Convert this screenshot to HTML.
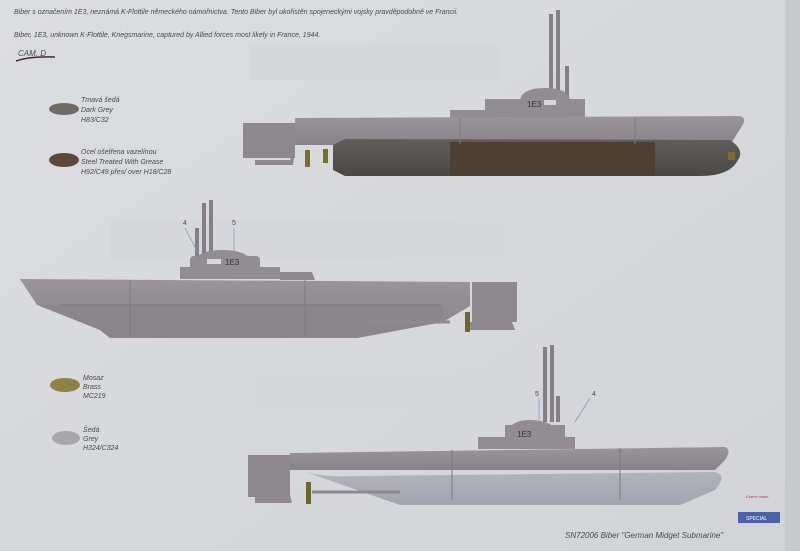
<!DOCTYPE html>
<html><head><meta charset="utf-8"><style>
html,body{margin:0;padding:0;background:#d8d9dc;}
svg{display:block}
text{font-family:"Liberation Sans",sans-serif;font-style:italic;fill:#4a4a4e}
</style></head><body>
<svg width="800" height="551" viewBox="0 0 800 551" xmlns="http://www.w3.org/2000/svg">
<defs>
<linearGradient id="bg" x1="0" y1="0" x2="1" y2="1"><stop offset="0" stop-color="#dcdde0"/><stop offset="1" stop-color="#d2d4d8"/></linearGradient>
<linearGradient id="hull" x1="0" y1="0" x2="0" y2="1"><stop offset="0" stop-color="#9a959a"/><stop offset="1" stop-color="#88838a"/></linearGradient>
<linearGradient id="torp" x1="0" y1="0" x2="0" y2="1"><stop offset="0" stop-color="#615d5a"/><stop offset="1" stop-color="#4a4744"/></linearGradient>
<linearGradient id="lgrey" x1="0" y1="0" x2="0" y2="1"><stop offset="0" stop-color="#b3b4bd"/><stop offset="1" stop-color="#a2a4ae"/></linearGradient>
</defs>
<rect width="800" height="551" fill="url(#bg)"/>
<rect x="785" y="0" width="15" height="551" fill="#c8cacd"/>
<rect x="250" y="45" width="250" height="35" fill="#d6d7da"/>
<rect x="110" y="220" width="400" height="40" fill="#d6d7da"/>
<rect x="255" y="370" width="250" height="40" fill="#d6d7da"/>

<text x="14" y="14" font-size="7">Biber s označením 1E3, neznámá K-Flottile německého námořnictva. Tento Biber byl ukořistěn spojeneckými vojsky pravděpodobně ve Francii.</text>
<text x="14" y="37" font-size="7">Biber, 1E3, unknown K-Flottile, Kriegsmarine, captured by Allied forces most likely in France, 1944.</text>
<text x="18" y="56" font-size="8">CAM. D</text>
<path d="M16 61 Q30 56 55 57" stroke="#4a2a3a" stroke-width="1.5" fill="none"/>

<ellipse cx="64" cy="109" rx="15" ry="6" fill="#6f6a64"/>
<text x="81" y="102" font-size="7">Tmavá šedá</text><text x="81" y="112" font-size="7">Dark Grey</text><text x="81" y="122" font-size="7">H83/C32</text>
<ellipse cx="64" cy="160" rx="15" ry="7" fill="#5d4838"/>
<text x="81" y="154" font-size="7">Ocel ošetřena vazelínou</text><text x="81" y="164" font-size="7">Steel Treated With Grease</text><text x="81" y="174" font-size="7">H92/C49 přes/ over H18/C28</text>
<ellipse cx="65" cy="385" rx="15" ry="7" fill="#8d8443"/>
<text x="83" y="380" font-size="7">Mosaz</text><text x="83" y="389" font-size="7">Brass</text><text x="83" y="398" font-size="7">MC219</text>
<ellipse cx="66" cy="438" rx="14" ry="7" fill="#a9a6ad"/>
<text x="83" y="432" font-size="7">Šedá</text><text x="83" y="441" font-size="7">Grey</text><text x="83" y="450" font-size="7">H324/C324</text>

<!-- TOP SUB -->
<g>
<rect x="549" y="14" width="4" height="86" fill="#858086"/>
<rect x="556" y="10" width="4" height="90" fill="#858086"/>
<rect x="565" y="66" width="4" height="34" fill="#858086"/>
<path d="M520 100 Q522 88 545 88 Q568 88 570 100 Z" fill="#928d93"/>
<rect x="485" y="99" width="100" height="19" fill="#928d93"/>
<rect x="450" y="110" width="40" height="8" fill="#928d93"/>
<rect x="243" y="123" width="52" height="35" fill="#8e898f"/>
<path d="M255 160 L290 160 L295 150 L293 165 L255 165Z" fill="#8e898f"/>
<path d="M295 118 L740 116 Q747 118 742 126 L730 145 L295 145 Z" fill="url(#hull)"/>
<path d="M333 145 L345 139 L730 140 Q745 150 738 160 Q730 176 700 176 L345 176 L333 170 Z" fill="url(#torp)"/>
<rect x="450" y="142" width="205" height="34" fill="#4d3f31"/>
<rect x="305" y="150" width="5" height="17" fill="#7b6e2c"/>
<rect x="323" y="149" width="5" height="14" fill="#7b6e2c"/>
<rect x="728" y="152" width="7" height="8" fill="#7b6e2c"/>
<text x="527" y="107" font-size="8" style="font-style:normal;fill:#333">1E3</text>
<rect x="544" y="100" width="12" height="5" fill="#d6d7da"/>
<line x1="460" y1="118" x2="460" y2="144" stroke="#7d787e"/><line x1="635" y1="118" x2="635" y2="144" stroke="#7d787e"/>
</g>

<!-- MIDDLE SUB -->
<g>
<rect x="202" y="203" width="4" height="55" fill="#858086"/>
<rect x="209" y="200" width="4" height="58" fill="#858086"/>
<rect x="195" y="228" width="4" height="30" fill="#858086"/>
<path d="M193 265 Q195 250 222 250 Q250 250 253 265 Z" fill="#928d93"/>
<rect x="190" y="256" width="70" height="14" rx="4" fill="#928d93"/>
<rect x="180" y="267" width="100" height="12" fill="#928d93"/>
<path d="M280 272 L312 272 L315 280 L280 280Z" fill="#8e898f"/>
<rect x="472" y="282" width="45" height="40" fill="#8e898f"/>
<path d="M470 322 L512 322 L515 330 L470 330Z" fill="#8e898f"/>
<path d="M20 279 L470 282 L470 306 L443 322 L357 338 L110 338 L100 330 L37 305 Z" fill="url(#hull)"/>
<path d="M40 305 L443 305 L443 322 L357 338 L110 338 L100 330 Z" fill="#8b868c"/>
<line x1="60" y1="305" x2="440" y2="305" stroke="#7a757b"/>
<line x1="130" y1="280" x2="130" y2="335" stroke="#7d787e"/><line x1="305" y1="280" x2="305" y2="335" stroke="#7d787e"/>
<line x1="370" y1="322" x2="450" y2="322" stroke="#8e898f" stroke-width="3"/>
<rect x="465" y="312" width="5" height="20" fill="#6e6530"/>
<text x="225" y="265" font-size="8" style="font-style:normal;fill:#333">1E3</text>
<rect x="207" y="259" width="14" height="5" fill="#d6d7da"/>
<text x="183" y="225" font-size="7" style="font-style:normal">4</text><text x="232" y="225" font-size="7" style="font-style:normal">5</text>
<line x1="185" y1="228" x2="198" y2="253" stroke="#7aa0c4" stroke-width="0.8"/><line x1="234" y1="228" x2="234" y2="252" stroke="#7aa0c4" stroke-width="0.8"/>
</g>

<!-- BOTTOM SUB -->
<g>
<rect x="543" y="347" width="4" height="75" fill="#858086"/>
<rect x="550" y="345" width="4" height="77" fill="#858086"/>
<rect x="556" y="396" width="4" height="26" fill="#858086"/>
<path d="M506 437 Q508 420 530 420 Q555 420 560 437 Z" fill="#928d93"/>
<rect x="505" y="425" width="60" height="23" fill="#928d93"/>
<rect x="478" y="437" width="97" height="12" fill="#928d93"/>
<rect x="248" y="455" width="42" height="42" fill="#8e898f"/>
<path d="M255 495 L290 495 L292 503 L255 503Z" fill="#8e898f"/>
<path d="M290 453 L725 447 Q732 450 725 460 L715 470 L290 470 Z" fill="url(#hull)"/>
<path d="M300 470 Q320 478 360 476 L715 472 Q728 475 715 490 L680 505 L400 505 Z" fill="url(#lgrey)"/>
<line x1="312" y1="492" x2="400" y2="492" stroke="#8e898f" stroke-width="3"/>
<rect x="306" y="482" width="5" height="22" fill="#6e6530"/>
<text x="517" y="437" font-size="8" style="font-style:normal;fill:#333">1E3</text>
<text x="535" y="396" font-size="7" style="font-style:normal">5</text><text x="592" y="396" font-size="7" style="font-style:normal">4</text>
<line x1="539" y1="398" x2="539" y2="420" stroke="#7aa0c4" stroke-width="0.8"/><line x1="590" y1="398" x2="575" y2="422" stroke="#7aa0c4" stroke-width="0.8"/>
<line x1="452" y1="450" x2="452" y2="500" stroke="#7d787e"/><line x1="620" y1="448" x2="620" y2="500" stroke="#7d787e"/>
</g>

<text x="746" y="498" font-size="4" style="fill:#c0392b">Czech made</text>
<rect x="738" y="512" width="42" height="11" fill="#4a63a8"/>
<text x="746" y="520" font-size="5" style="fill:#fff;font-style:normal">SPECIAL</text>
<text x="565" y="538" font-size="8">SN72006 Biber "German Midget Submarine"</text>
</svg>
</body></html>
